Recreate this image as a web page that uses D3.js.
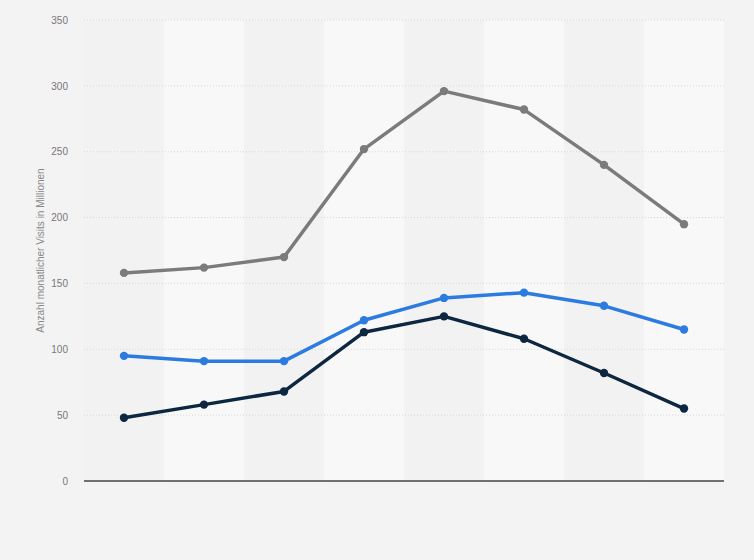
<!DOCTYPE html>
<html><head><meta charset="utf-8">
<script src="https://cdn.jsdelivr.net/npm/d3@7"></script>
<style>html,body{margin:0;padding:0;background:#f3f3f3;}svg{display:block;}</style>
</head><body>
<svg id="c" width="754" height="560"></svg>
<script>
const categories = ["1","2","3","4","5","6","7","8"];
const seriesGray = [158, 162, 170, 252, 296, 282, 240, 195];
const seriesBlue = [95, 91, 91, 122, 139, 143, 133, 115];
const seriesNavy = [48, 58, 68, 113, 125, 108, 82, 55];
const yTicks = [0, 50, 100, 150, 200, 250, 300, 350];
const yLabel = "Anzahl monatlicher Visits in Millionen";

const svg = d3.select("#c");
const W = 754, H = 560;
const m = {left: 84, right: 30, top: 20, bottom: 79};
const x = d3.scaleBand().domain(categories).range([m.left, W - m.right]).padding(0);
const y = d3.scaleLinear().domain([0, 350]).range([H - m.bottom, m.top]);

svg.append("rect").attr("width", W).attr("height", H).attr("fill", "#f3f3f3");

// alternating bands
svg.append("g").selectAll("rect").data(categories).join("rect")
  .attr("x", d => x(d)).attr("y", y(350)).attr("width", x.bandwidth())
  .attr("height", y(0) - y(350))
  .attr("fill", (d, i) => i % 2 ? "#f8f8f8" : "#f2f2f2");

// gridlines
svg.append("g").selectAll("line").data(yTicks.filter(t => t > 0)).join("line")
  .attr("x1", m.left).attr("x2", W - m.right)
  .attr("y1", d => y(d)).attr("y2", d => y(d))
  .attr("stroke", "#d8d8d8").attr("stroke-width", 1).attr("stroke-dasharray", "1,2");

// y axis
const ya = svg.append("g").attr("transform", `translate(${m.left},0)`)
  .call(d3.axisLeft(y).tickValues(yTicks).tickSize(0).tickPadding(16));
ya.select(".domain").remove();
ya.selectAll("text").attr("fill", "#777").style("font-family", "Arial, 'Liberation Sans', sans-serif").style("font-size", "10px");

// baseline
svg.append("line").attr("x1", m.left).attr("x2", W - m.right)
  .attr("y1", y(0)).attr("y2", y(0)).attr("stroke", "#444").attr("stroke-width", 1.5);

// y label
svg.append("text").attr("transform", `translate(44,${(y(0)+y(350))/2}) rotate(-90)`)
  .attr("text-anchor", "middle").attr("fill", "#888")
  .style("font-family", "Arial, 'Liberation Sans', sans-serif").style("font-size", "10px")
  .text(yLabel);

const series = [
  {values: seriesGray, color: "#7b7b7b"},
  {values: seriesBlue, color: "#2c7be0"},
  {values: seriesNavy, color: "#0e2741"}
];
const cx = d => x(d) + x.bandwidth() / 2;
const line = d3.line().x((v, i) => cx(categories[i])).y(v => y(v));
series.forEach(s => {
  svg.append("path").datum(s.values).attr("d", line)
    .attr("fill", "none").attr("stroke", s.color).attr("stroke-width", 3.5)
    .attr("stroke-linejoin", "round");
  svg.append("g").selectAll("circle").data(s.values).join("circle")
    .attr("cx", (v, i) => cx(categories[i])).attr("cy", v => y(v)).attr("r", 4.2)
    .attr("fill", s.color);
});
</script>
</body></html>
